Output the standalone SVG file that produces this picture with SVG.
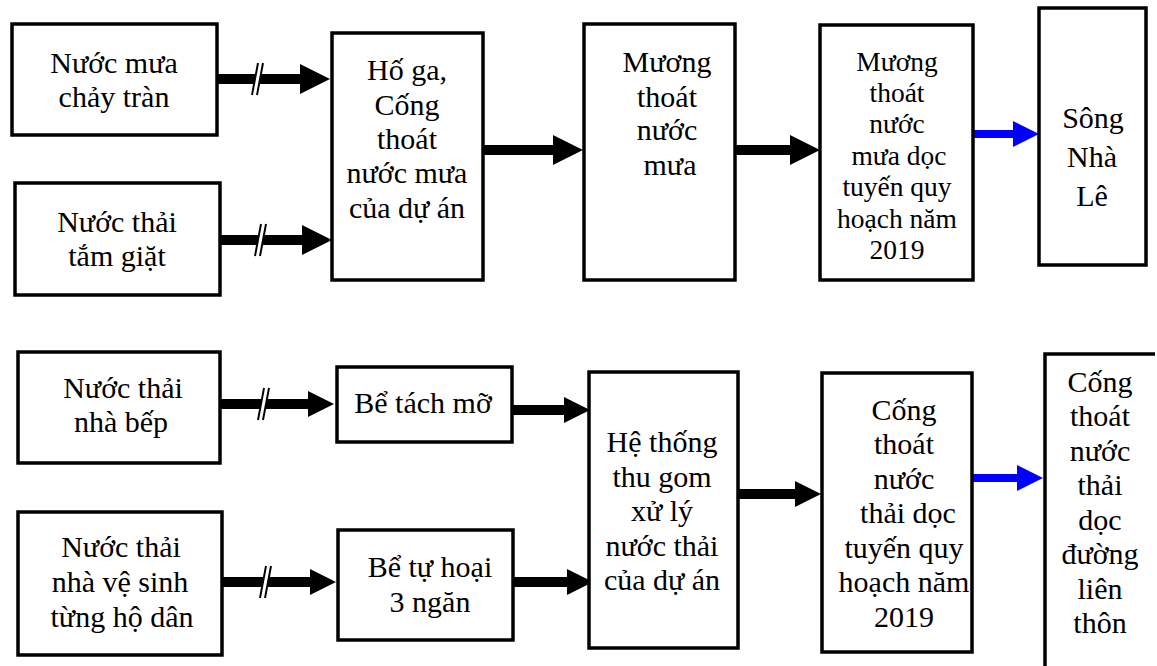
<svg xmlns="http://www.w3.org/2000/svg" width="1157" height="666" viewBox="0 0 1157 666">
<defs>
<style>
.box{fill:#fff;stroke:#000;stroke-width:3.5}
.t{font-family:"Liberation Serif","Times New Roman",serif;font-size:30px;fill:#000;text-anchor:middle}
.ts{font-size:27.5px}
.sh{stroke:#000;stroke-width:10;fill:none}
.shb{stroke:#0000ff;stroke-width:8;fill:none}
.hw{fill:#fff;stroke:none}
.hl{stroke:#000;stroke-width:2}
</style>
<marker id="ah" markerUnits="userSpaceOnUse" markerWidth="30" markerHeight="30" viewBox="0 0 30 30" refX="0" refY="15" orient="auto"><path d="M0,0 L30,15 L0,30 Z" fill="#000"/></marker>
<marker id="ahs" markerUnits="userSpaceOnUse" markerWidth="26" markerHeight="26" viewBox="0 0 26 26" refX="0" refY="13" orient="auto"><path d="M0,0 L26,13 L0,26 Z" fill="#000"/></marker>
<marker id="ahb" markerUnits="userSpaceOnUse" markerWidth="26" markerHeight="26" viewBox="0 0 26 26" refX="0" refY="13" orient="auto"><path d="M0,0 L26,13 L0,26 Z" fill="#0000ff"/></marker>
</defs>
<rect width="1157" height="666" fill="#fff"/>

<g id="connectors">
<line class="sh" x1="217" y1="79" x2="300" y2="79" marker-end="url(#ah)"/>
<line class="sh" x1="220" y1="240" x2="302" y2="240" marker-end="url(#ah)"/>
<line class="sh" x1="483" y1="150" x2="553" y2="150" marker-end="url(#ah)"/>
<line class="sh" x1="735" y1="150" x2="790" y2="150" marker-end="url(#ah)"/>
<line class="shb" x1="973" y1="134" x2="1013" y2="134" marker-end="url(#ahb)"/>
<line class="sh" x1="220" y1="404" x2="308" y2="404" marker-end="url(#ahs)"/>
<line class="sh" x1="222" y1="582" x2="310" y2="582" marker-end="url(#ahs)"/>
<line class="sh" x1="512" y1="410" x2="564" y2="410" marker-end="url(#ahs)"/>
<line class="sh" x1="513" y1="582" x2="567" y2="582" marker-end="url(#ahs)"/>
<line class="sh" x1="738" y1="494" x2="795" y2="494" marker-end="url(#ahs)"/>
<line class="shb" x1="972" y1="478" x2="1017" y2="478" marker-end="url(#ahb)"/>
<polygon class="hw" points="252,95 258,63 263,63 257,95"/>
<line class="hl" x1="252" y1="95" x2="258" y2="63"/>
<line class="hl" x1="257" y1="95" x2="263" y2="63"/>
<polygon class="hw" points="255,256 261,224 266,224 260,256"/>
<line class="hl" x1="255" y1="256" x2="261" y2="224"/>
<line class="hl" x1="260" y1="256" x2="266" y2="224"/>
<polygon class="hw" points="258,420 264,388 269,388 263,420"/>
<line class="hl" x1="258" y1="420" x2="264" y2="388"/>
<line class="hl" x1="263" y1="420" x2="269" y2="388"/>
<polygon class="hw" points="260,598 266,566 271,566 265,598"/>
<line class="hl" x1="260" y1="598" x2="266" y2="566"/>
<line class="hl" x1="265" y1="598" x2="271" y2="566"/>
</g>

<g id="n1"><rect class="box" x="12" y="24" width="205" height="111"/>
<text class="t" x="114" y="73">Nước mưa</text><text class="t" x="114" y="107">chảy tràn</text></g>

<g id="n2"><rect class="box" x="15" y="183" width="205" height="112"/>
<text class="t" x="117" y="232">Nước thải</text><text class="t" x="117" y="266">tắm giặt</text></g>

<g id="n3"><rect class="box" x="332" y="33" width="151" height="247"/>
<text class="t" x="407" y="80">Hố ga,</text><text class="t" x="407" y="115">Cống</text><text class="t" x="407" y="149">thoát</text><text class="t" x="407" y="183">nước mưa</text><text class="t" x="407" y="218">của dự án</text></g>

<g id="n4"><rect class="box" x="584" y="24" width="151" height="256"/>
<text class="t" x="667" y="72">Mương</text><text class="t" x="667" y="107">thoát</text><text class="t" x="667" y="140">nước</text><text class="t" x="670" y="175">mưa</text></g>

<g id="n5"><rect class="box" x="820" y="25" width="153" height="255"/>
<text class="t ts" x="897" y="71">Mương</text><text class="t ts" x="897" y="102">thoát</text><text class="t ts" x="897" y="133">nước</text><text class="t ts" x="899" y="165">mưa dọc</text><text class="t ts" x="897" y="196">tuyến quy</text><text class="t ts" x="897" y="228">hoạch năm</text><text class="t ts" x="897" y="259">2019</text></g>

<g id="n6"><rect class="box" x="1039" y="8" width="107" height="257"/>
<text class="t" x="1093" y="128">Sông</text><text class="t" x="1092" y="167">Nhà</text><text class="t" x="1092" y="206">Lê</text></g>

<g id="n7"><rect class="box" x="18" y="352" width="202" height="111"/>
<text class="t" x="123" y="398">Nước thải</text><text class="t" x="121" y="432">nhà bếp</text></g>

<g id="n8"><rect class="box" x="18" y="512" width="204" height="143"/>
<text class="t" x="121" y="557">Nước thải</text><text class="t" x="120" y="592">nhà vệ sinh</text><text class="t" x="122" y="627">từng hộ dân</text></g>

<g id="n9"><rect class="box" x="337" y="367" width="175" height="75"/>
<text class="t" x="423" y="413">Bể tách mỡ</text></g>

<g id="n10"><rect class="box" x="338" y="530" width="175" height="110"/>
<text class="t" x="430" y="577">Bể tự hoại</text><text class="t" x="430" y="612">3 ngăn</text></g>

<g id="n11"><rect class="box" x="589" y="372" width="149" height="276"/>
<text class="t" x="662" y="452">Hệ thống</text><text class="t" x="662" y="487">thu gom</text><text class="t" x="662" y="521">xử lý</text><text class="t" x="662" y="556">nước thải</text><text class="t" x="662" y="590">của dự án</text></g>

<g id="n12"><rect class="box" x="822" y="373" width="150" height="279"/>
<text class="t" x="904" y="420">Cống</text><text class="t" x="904" y="454">thoát</text><text class="t" x="904" y="489">nước</text><text class="t" x="908" y="523">thải dọc</text><text class="t" x="904" y="558">tuyến quy</text><text class="t" x="904" y="592">hoạch năm</text><text class="t" x="904" y="627">2019</text></g>

<g id="n13"><path d="M1045,680 L1045,354 L1155,354" fill="none" stroke="#000" stroke-width="3.5"/>
<text class="t" x="1100" y="392">Cống</text><text class="t" x="1100" y="426">thoát</text><text class="t" x="1100" y="461">nước</text><text class="t" x="1100" y="495">thải</text><text class="t" x="1100" y="530">dọc</text><text class="t" x="1100" y="564">đường</text><text class="t" x="1100" y="599">liên</text><text class="t" x="1100" y="633">thôn</text></g>
</svg>
